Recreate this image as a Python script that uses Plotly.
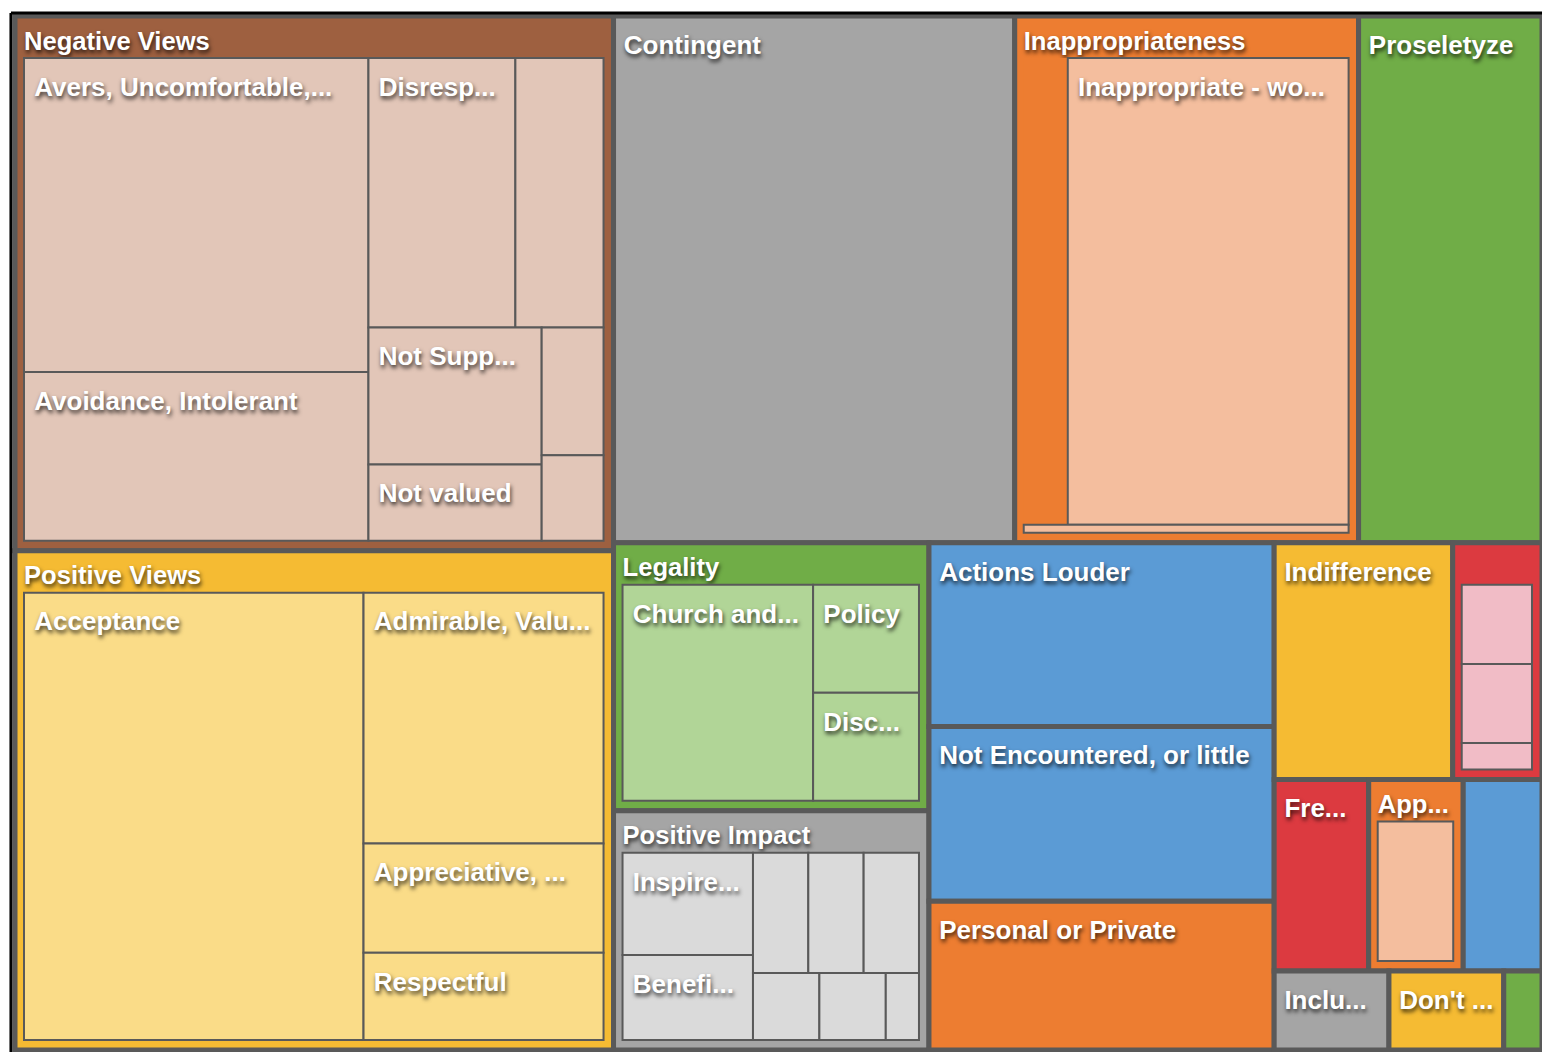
import plotly.graph_objects as go

# ---- data (counts read from tile areas) ----
ids = [
    "Negative Views", "Positive Views", "Contingent", "Inappropriateness", "Proseletyze",
    "Legality", "Positive Impact", "Actions Louder", "Not Encountered, or little",
    "Personal or Private", "Indifference", "red_group", "Fre", "App", "blue_leaf",
    "Inclu", "Dont", "green_leaf",
    # Negative Views
    "nv_avers", "nv_avoid", "nv_disresp", "nv_u1", "nv_notsupp", "nv_notvalued", "nv_u2", "nv_u3",
    # Positive Views
    "pv_accept", "pv_admir", "pv_apprec", "pv_respect",
    # Inappropriateness
    "in_strip", "in_main", "in_bottom",
    # Legality
    "lg_church", "lg_policy", "lg_disc",
    # Positive Impact
    "pi_inspire", "pi_benefi", "pi_3", "pi_4", "pi_5", "pi_6", "pi_7", "pi_8",
    # red group
    "rg_1", "rg_2", "rg_3",
    # App
    "app_1",
]

labels = [
    "Negative Views", "Positive Views", "Contingent", "Inappropriateness", "Proseletyze",
    "Legality", "Positive Impact", "Actions Louder", "Not Encountered, or little",
    "Personal or Private", "Indifference", "", "Fre...", "App...", "",
    "Inclu...", "Don't ...", "",
    "Avers, Uncomfortable,...", "Avoidance, Intolerant", "Disresp...", "", "Not Supp...", "Not valued", "", "",
    "Acceptance", "Admirable, Valu...", "Appreciative, ...", "Respectful",
    "", "Inappropriate - wo...", "",
    "Church and...", "Policy", "Disc...",
    "Inspire...", "Benefi...", "", "", "", "", "", "",
    "", "", "",
    "",
]

parents = [
    "", "", "", "", "", "", "", "", "", "", "", "", "", "", "", "", "", "",
    "Negative Views", "Negative Views", "Negative Views", "Negative Views",
    "Negative Views", "Negative Views", "Negative Views", "Negative Views",
    "Positive Views", "Positive Views", "Positive Views", "Positive Views",
    "Inappropriateness", "Inappropriateness", "Inappropriateness",
    "Legality", "Legality", "Legality",
    "Positive Impact", "Positive Impact", "Positive Impact", "Positive Impact",
    "Positive Impact", "Positive Impact", "Positive Impact", "Positive Impact",
    "red_group", "red_group", "red_group",
    "App",
]

values = [
    106, 99, 70, 60, 32, 28, 25, 21, 20, 17, 14, 7, 6, 6, 5, 3, 3, 1,
    41, 22, 15, 9, 9, 5, 3, 2,
    58, 23, 10, 8,
    8, 51, 1,
    18, 5, 5,
    6, 5, 3, 3, 3, 2, 2, 1,
    3, 3, 1,
    6,
]

# ---- styles ----
BROWN, BROWN_L = "#9E6040", "#E2C6B8"
GRAY, GRAY_L = "#A5A5A5", "#DADADA"
ORANGE, ORANGE_L = "#ED7D31", "#F4BE9E"
GREEN, GREEN_L = "#70AD47", "#B1D597"
YELLOW, YELLOW_L = "#F5BB33", "#FADC88"
BLUE = "#5B9BD5"
RED, RED_L = "#DC3A40", "#F1BCC6"
BORDER = "#595959"
NBSP = "\u00a0"
# tiny first line pushes each label a few pixels down from the tile's top edge
LEAD = "<span style='font-size:1px'>" + NBSP + "</span><br>"
# headers get shrunk to fit the header band, so they start from a larger size
HEAD_OPEN, HEAD_CLOSE = "<span style='font-size:29px'>", "</span>"

top_colors = {
    "Negative Views": BROWN, "Positive Views": YELLOW, "Contingent": GRAY,
    "Inappropriateness": ORANGE, "Proseletyze": GREEN, "Legality": GREEN,
    "Positive Impact": GRAY, "Actions Louder": BLUE, "Not Encountered, or little": BLUE,
    "Personal or Private": ORANGE, "Indifference": YELLOW, "red_group": RED,
    "Fre": RED, "App": ORANGE, "blue_leaf": BLUE, "Inclu": GRAY, "Dont": YELLOW,
    "green_leaf": GREEN,
}
child_colors = {
    "Negative Views": BROWN_L, "Positive Views": YELLOW_L, "Inappropriateness": ORANGE_L,
    "Legality": GREEN_L, "Positive Impact": GRAY_L, "red_group": RED_L, "App": ORANGE_L,
}

parent_set = set(p for p in parents if p)
colors, widths, shown, disp_labels = [], [], [], []
for i, p, lab in zip(ids, parents, labels):
    if p == "":
        colors.append(top_colors[i])
        widths.append(5)
    elif i == "in_strip":
        colors.append(ORANGE)
        widths.append(0)
    else:
        colors.append(child_colors[p])
        widths.append(2)
    if lab == "":
        shown.append(NBSP)
        disp_labels.append(NBSP)
    elif i in parent_set:
        shown.append(lab)
        disp_labels.append(LEAD + HEAD_OPEN + lab + HEAD_CLOSE)
    else:
        shown.append(LEAD + NBSP + lab)
        disp_labels.append(lab)

fig = go.Figure(go.Treemap(
    ids=ids,
    labels=disp_labels,
    parents=parents,
    values=values,
    text=shown,
    branchvalues="total",
    sort=False,
    tiling=dict(packing="squarify", squarifyratio=1.618, pad=0),
    marker=dict(
        colors=colors,
        line=dict(color=BORDER, width=widths),
        pad=dict(t=42, l=9, r=10, b=10),
        depthfade=False,
    ),
    pathbar=dict(visible=False),
    texttemplate="%{text}",
    textposition="top left",
    textfont=dict(family="Liberation Sans, Arial, sans-serif", size=26, color="white",
                  weight="bold", shadow="1px 3px 4px rgba(0,0,0,0.75)"),
    hoverinfo="value",
))

# figure is a bit larger than the window so the hidden root's header band sits off-screen
FIG_W, FIG_H = 1552, 1086
fig.update_layout(
    width=FIG_W, height=FIG_H,
    margin=dict(l=6, r=0, t=0, b=0),
    paper_bgcolor="white",
    showlegend=False,
    shapes=[
        dict(type="line", xref="paper", yref="paper", x0=0.0032, x1=1.0, y0=0.9641, y1=0.9641,
             line=dict(color="black", width=3)),
        dict(type="line", xref="paper", yref="paper", x0=0.0032, x1=0.0032, y0=0.0, y1=0.9641,
             line=dict(color="black", width=3)),
    ],
)

post = (
    "var gd=document.getElementById('{plot_id}');"
    "document.body.style.margin='0';document.body.style.overflow='hidden';"
    "gd.style.position='absolute';gd.style.left='0px';gd.style.top='-26px';"
)
fig.write_html("out.html", post_script=post)
